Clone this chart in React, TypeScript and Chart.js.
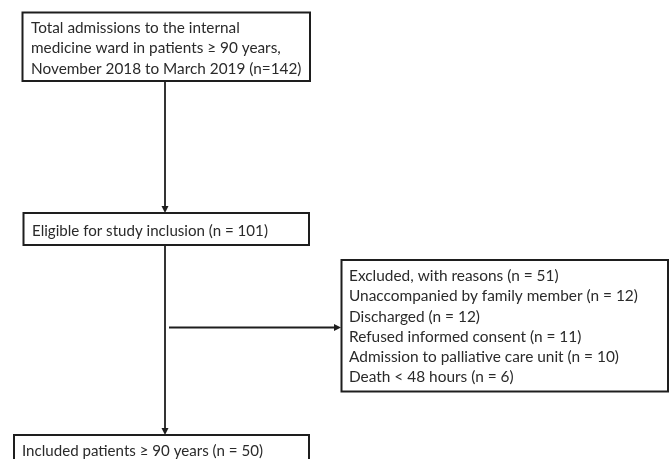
import React, { useEffect, useRef } from "react";
import { Chart, registerables } from "chart.js";

Chart.register(...registerables);

// ---- Data ----
const totalN = 142;
const eligibleN = 101;
const excludedN = 51;
const excludedReasons = [
  "Unaccompanied by family member",
  "Discharged",
  "Refused informed consent",
  "Admission to palliative care unit",
  "Death < 48 hours",
];
const excludedCounts = [12, 12, 11, 10, 6];
const includedN = 50;

const box1Lines = [
  "Total admissions to the internal",
  "medicine ward in patients \u2265 90 years,",
  `November 2018 to March 2019 (n=${totalN})`,
];
const box2Lines = [`Eligible for study inclusion (n = ${eligibleN})`];
const box3Lines = [
  `Excluded, with reasons (n = ${excludedN})`,
  ...excludedReasons.map((r, i) => `${r} (n = ${excludedCounts[i]})`),
];
const box4Lines = [`Included patients \u2265 90 years (n = ${includedN})`];

// ---- Layout (in scale units, x: 0..671, y: 0..459 top-down) ----
// fitLine / fitW: the text of that line should span about fitW units.
type Box = {
  x0: number; y0: number; x1: number; y1: number;
  tx: number; ty: number; gap: number;
  fitLine: number; fitW: number; lines: string[];
};
const boxes: Box[] = [
  { x0: 22.5, y0: 12.5, x1: 310, y1: 81, tx: 31, ty: 28, gap: 20.3, fitLine: 0, fitW: 209, lines: box1Lines },
  { x0: 23.5, y0: 213, x1: 309, y1: 245, tx: 32, ty: 231, gap: 20, fitLine: 0, fitW: 236, lines: box2Lines },
  { x0: 341.5, y0: 260, x1: 668, y1: 391.5, tx: 349, ty: 276, gap: 20.3, fitLine: 1, fitW: 289, lines: box3Lines },
  { x0: 14, y0: 435, x1: 309, y1: 475, tx: 22, ty: 451, gap: 20, fitLine: 0, fitW: 241, lines: box4Lines },
];
const arrows = [
  { x0: 165, y0: 81, x1: 165, y1: 213 },
  { x0: 165, y0: 245, x1: 165, y1: 435 },
  { x0: 169, y0: 327.5, x1: 341, y1: 327.5 },
];

const FAMILY = 'Lato, "Open Sans", sans-serif';
const INK = "#1e1e1e";

const flowPlugin = {
  id: "flow",
  afterDraw(chart: any) {
    const ctx: CanvasRenderingContext2D = chart.ctx;
    const xs = chart.scales.x;
    const ys = chart.scales.y;
    const X = (v: number) => xs.getPixelForValue(v);
    const Y = (v: number) => ys.getPixelForValue(v);
    ctx.save();
    // arrows
    ctx.strokeStyle = INK;
    ctx.fillStyle = INK;
    ctx.lineWidth = 1.8;
    for (const a of arrows) {
      const x0 = X(a.x0), y0 = Y(a.y0), x1 = X(a.x1), y1 = Y(a.y1);
      const ang = Math.atan2(y1 - y0, x1 - x0);
      const len = 7, half = 3.5;
      const bx = x1 - len * Math.cos(ang), by = y1 - len * Math.sin(ang);
      ctx.beginPath();
      ctx.moveTo(x0, y0);
      ctx.lineTo(bx, by);
      ctx.stroke();
      ctx.beginPath();
      ctx.moveTo(x1, y1);
      ctx.lineTo(bx + half * Math.sin(ang), by - half * Math.cos(ang));
      ctx.lineTo(bx - half * Math.sin(ang), by + half * Math.cos(ang));
      ctx.closePath();
      ctx.fill();
    }
    // boxes
    ctx.lineWidth = 2;
    ctx.textBaseline = "middle";
    ctx.textAlign = "left";
    for (const b of boxes) {
      const x0 = X(b.x0), y0 = Y(b.y0), x1 = X(b.x1), y1 = Y(b.y1);
      ctx.fillStyle = "#ffffff";
      ctx.fillRect(x0, y0, x1 - x0, y1 - y0);
      ctx.strokeStyle = INK;
      ctx.strokeRect(x0, y0, x1 - x0, y1 - y0);
      ctx.fillStyle = "#2a2a2a";
      ctx.font = `20px ${FAMILY}`;
      const w20 = ctx.measureText(b.lines[b.fitLine]).width;
      const target = X(b.tx + b.fitW) - X(b.tx);
      const size = Math.max(8, Math.min(24, (20 * target) / w20));
      ctx.font = `${size.toFixed(2)}px ${FAMILY}`;
      b.lines.forEach((t, i) => {
        ctx.fillText(t, X(b.tx), Y(b.ty + i * b.gap));
      });
    }
    ctx.restore();
  },
};

export default function App() {
  const ref = useRef<HTMLCanvasElement>(null);
  useEffect(() => {
    if (!ref.current) return;
    const chart = new Chart(ref.current, {
      type: "scatter",
      data: { datasets: [{ data: [], pointRadius: 0 }] },
      options: {
        animation: false,
        responsive: false,
        layout: { padding: 0 },
        plugins: { legend: { display: false }, tooltip: { enabled: false } },
        scales: {
          x: { type: "linear", min: 0, max: 671, display: false },
          y: { type: "linear", min: 0, max: 459, reverse: true, display: false },
        },
      },
      plugins: [flowPlugin],
    });
    return () => chart.destroy();
  }, []);
  return (
    <div style={{ position: "fixed", left: 0, top: 0, width: 671, height: 459, background: "#fff" }}>
      <canvas ref={ref} width={671} height={459} style={{ width: 671, height: 459, display: "block" }} />
    </div>
  );
}
